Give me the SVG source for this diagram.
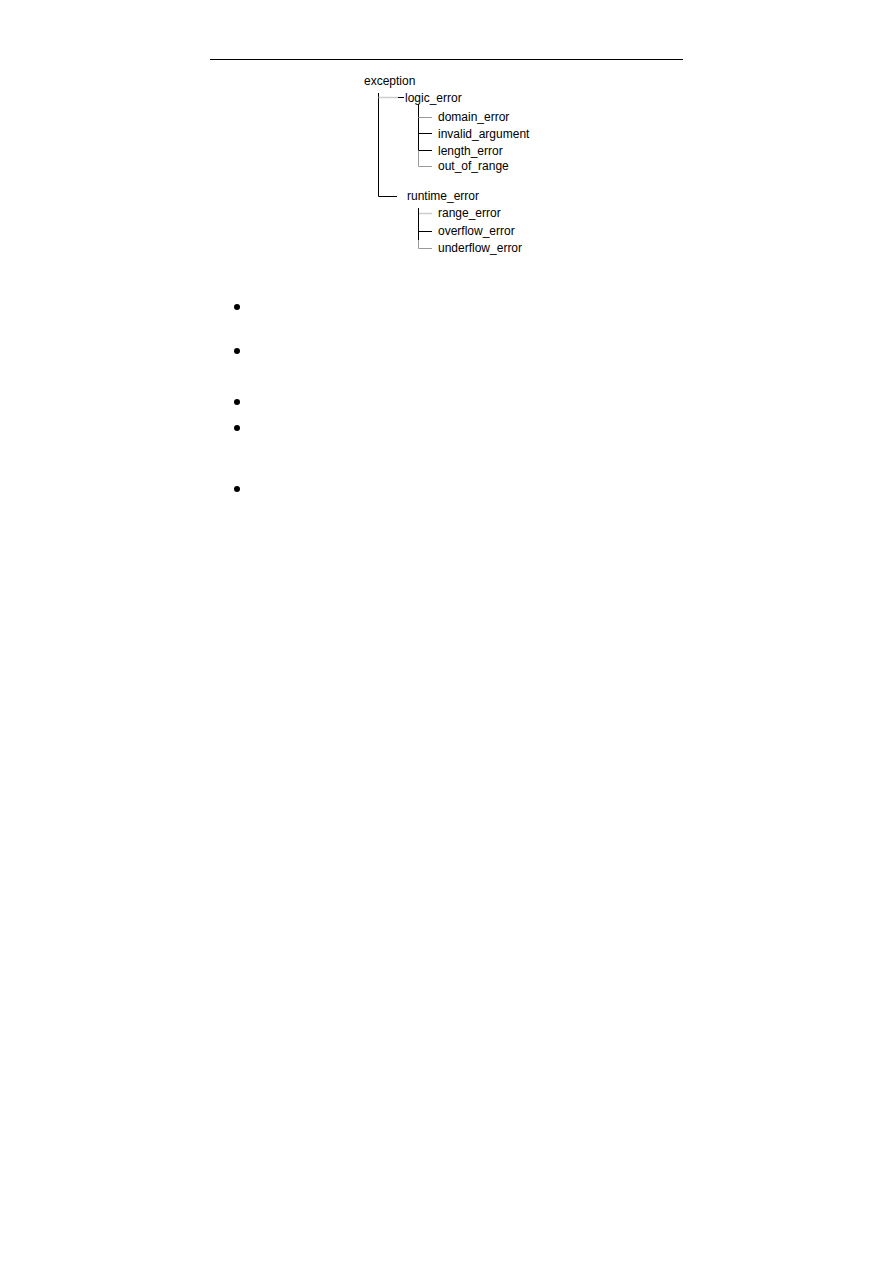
<svg xmlns="http://www.w3.org/2000/svg" width="893" height="1263" viewBox="0 0 893 1263">
<style>
text{font-family:"Liberation Sans",Arial,sans-serif;font-size:12px;fill:#000}
.k{stroke:#000;stroke-width:1;fill:none}
.g{stroke:#999;stroke-width:1;fill:none}
.lg{stroke:#ccc;stroke-width:1.5;fill:none}
</style>
<rect width="893" height="1263" fill="#fff"/>
<line x1="210" y1="59.5" x2="683" y2="59.5" stroke="#000" stroke-width="1"/>
<g id="connectors">
<path class="k" d="M378.5 93V196.5H397"/>
<path class="lg" d="M378.5 97.5H398"/>
<path class="k" d="M398 97.5H404"/>
<path class="k" d="M418.5 104V150"/>
<path class="g" d="M418.5 150V166.5H432"/>
<path class="g" d="M418.5 117.5H432"/>
<path class="k" d="M418.5 133.5H432"/>
<path class="k" d="M418.5 150.5H432"/>
<path class="k" d="M418.5 208V240"/>
<path class="g" d="M418.5 240V248.5H432"/>
<path class="lg" d="M419 213.5H432"/>
<path class="k" d="M418.5 231.5H432"/>
</g>
<g id="exception"><text x="364" y="85">exception</text></g>
<g id="logic_error"><text x="405" y="102">logic_error</text></g>
<g id="domain_error"><text x="438" y="121">domain_error</text></g>
<g id="invalid_argument"><text x="438" y="138">invalid_argument</text></g>
<g id="length_error"><text x="438" y="155">length_error</text></g>
<g id="out_of_range"><text x="438" y="170">out_of_range</text></g>
<g id="runtime_error"><text x="407" y="200">runtime_error</text></g>
<g id="range_error"><text x="438" y="217">range_error</text></g>
<g id="overflow_error"><text x="438" y="235">overflow_error</text></g>
<g id="underflow_error"><text x="438" y="252">underflow_error</text></g>
<g id="bullets" fill="#000">
<circle cx="237" cy="307" r="3"/>
<circle cx="237" cy="351" r="3"/>
<circle cx="237" cy="402" r="3"/>
<circle cx="237" cy="428" r="3"/>
<circle cx="237" cy="489" r="3"/>
</g>
</svg>
